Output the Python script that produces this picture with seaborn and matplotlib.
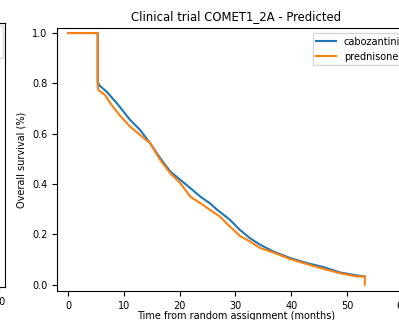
import matplotlib
matplotlib.use("Agg")
import matplotlib.pyplot as plt
import seaborn as sns
import pandas as pd

# Kaplan-Meier style survival readings (months, survival)
cabo_t = [0, 5.3, 5.3, 5.7, 6.9, 8.7, 11.1, 12.9, 14.7, 16.5, 18.3, 20.1, 21.9, 23.7,
          25.4, 26.6, 29.0, 30.8, 32.6, 34.4, 36.8, 39.8, 42.8, 45.8, 48.7, 51.7, 53.2]
cabo_s = [1.0, 1.0, 0.803, 0.79, 0.767, 0.722, 0.655, 0.615, 0.562, 0.503, 0.45,
          0.417, 0.384, 0.35, 0.324, 0.30, 0.258, 0.218, 0.185, 0.159, 0.132, 0.106,
          0.086, 0.07, 0.049, 0.037, 0.033]
pred_t = [0, 5.3, 5.3, 5.4, 6.6, 7.8, 9.3, 11.1, 12.9, 14.7, 16.5, 18.3, 20.1, 21.9, 23.7,
          25.4, 27.2, 29.0, 30.8, 32.6, 34.4, 36.8, 39.8, 42.8, 45.8, 48.7, 51.7, 53.2, 53.2]
pred_s = [1.0, 1.0, 0.79, 0.774, 0.754, 0.714, 0.672, 0.628, 0.595, 0.562, 0.496, 0.443,
          0.404, 0.35, 0.324, 0.298, 0.271, 0.231, 0.194, 0.172, 0.146, 0.128, 0.102,
          0.082, 0.063, 0.046, 0.033, 0.033, 0.0]
series_names = ["cabozantinib", "prednisone"]
x_ticks = [0, 10, 20, 30, 40, 50, 60]
y_ticks = [0.0, 0.2, 0.4, 0.6, 0.8, 1.0]

W, H = 399, 320
fig = plt.figure(figsize=(W / 100, H / 100), dpi=100)
fs = 7
colors = ["#1f77b4", "#ff7f0e"]

# partial neighbouring subplot (only its right edge is visible)
axl = fig.add_axes([(5 - 358) / W, 1 - 287 / H, 358 / W, (287 - 23) / H])
axl.set_xlim(-2, 61)
axl.set_ylim(-0.025, 1.02)
axl.set_xticks(x_ticks)
axl.tick_params(labelsize=fs)
axl.plot([], [], color=colors[0], label="a")
axl.plot([], [], color=colors[1], label="b")
axl.legend(loc="upper right", fontsize=fs, borderaxespad=0.2)

ax = fig.add_axes([57 / W, 1 - 291 / H, (415 - 57) / W, (291 - 28) / H])
df = pd.concat([
    pd.DataFrame({"t": cabo_t, "s": cabo_s, "arm": series_names[0]}),
    pd.DataFrame({"t": pred_t, "s": pred_s, "arm": series_names[1]}),
], ignore_index=True)
sns.lineplot(data=df, x="t", y="s", hue="arm", hue_order=series_names,
             palette=colors, estimator=None, sort=False, units="arm",
             lw=1.5, ax=ax)

ax.set_xlim(-2, 62.2)
ax.set_ylim(-0.025, 1.02)
ax.set_xticks(x_ticks)
ax.set_yticks(y_ticks)
ax.tick_params(labelsize=fs)
ax.set_xlabel("Time from random assignment (months)", fontsize=fs, labelpad=0)
ax.set_ylabel("Overall survival (%)", fontsize=fs)
ax.set_title("Clinical trial COMET1_2A - Predicted", fontsize=8.4)
ax.legend(loc="upper right", fontsize=fs, title=None)

fig.savefig("out.png", dpi=100)
